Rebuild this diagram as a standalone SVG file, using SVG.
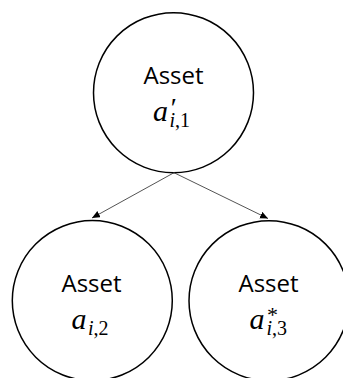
<svg xmlns="http://www.w3.org/2000/svg" width="343" height="378" viewBox="0 0 343 378">
  <style>
    .node { fill: #ffffff; stroke: #000000; stroke-width: 1.5; }
    .label { font-family: "Open Sans", "Liberation Sans", sans-serif; font-size: 24px; fill: #000000; text-anchor: middle; }
    .math { font-family: "Liberation Serif", "DejaVu Serif", serif; fill: #000000; }
    .var { font-size: 30px; font-style: italic; }
    .sub { font-size: 20px; }
    .it { font-style: italic; }
    .sup { font-size: 22px; }
    .prime { font-size: 28px; }
    .edge { fill: none; stroke: #404040; stroke-width: 0.9; }
  </style>
  <defs>
    <marker id="arrow" markerUnits="userSpaceOnUse" markerWidth="9" markerHeight="8" refX="8" refY="3.5" orient="auto">
      <path d="M0,0 L8,3.5 L0,7 z" fill="#000000"/>
    </marker>
  </defs>

  <rect width="343" height="378" fill="#ffffff"/>

  <!-- parent asset -->
  <g id="asset-a1">
    <circle class="node" cx="173.5" cy="92.7" r="80"/>
    <text class="label" x="173.5" y="84">Asset</text>
    <text class="math"><tspan class="var" x="153" y="120.5">a</tspan><tspan class="prime it" x="169" y="117">′</tspan><tspan class="sub it" x="169.5" y="126.5">i</tspan><tspan class="sub">,1</tspan></text>
  </g>

  <!-- left child asset -->
  <g id="asset-a2">
    <circle class="node" cx="92.3" cy="300.6" r="80"/>
    <text class="label" x="91.5" y="291.8">Asset</text>
    <text class="math"><tspan class="var" x="71.5" y="329">a</tspan><tspan class="sub it" x="88" y="335">i</tspan><tspan class="sub">,2</tspan></text>
  </g>

  <!-- right child asset -->
  <g id="asset-a3">
    <circle class="node" cx="269" cy="300.7" r="80"/>
    <text class="label" x="268.5" y="291.8">Asset</text>
    <text class="math"><tspan class="var" x="249.5" y="329">a</tspan><tspan class="sup" x="267" y="322">*</tspan><tspan class="sub it" x="266.5" y="335">i</tspan><tspan class="sub">,3</tspan></text>
  </g>

  <!-- connectors -->
  <g id="connectors">
    <line class="edge" x1="174" y1="172.7" x2="92" y2="218" marker-end="url(#arrow)"/>
    <line class="edge" x1="174" y1="172.7" x2="268" y2="218.5" marker-end="url(#arrow)"/>
  </g>
</svg>
